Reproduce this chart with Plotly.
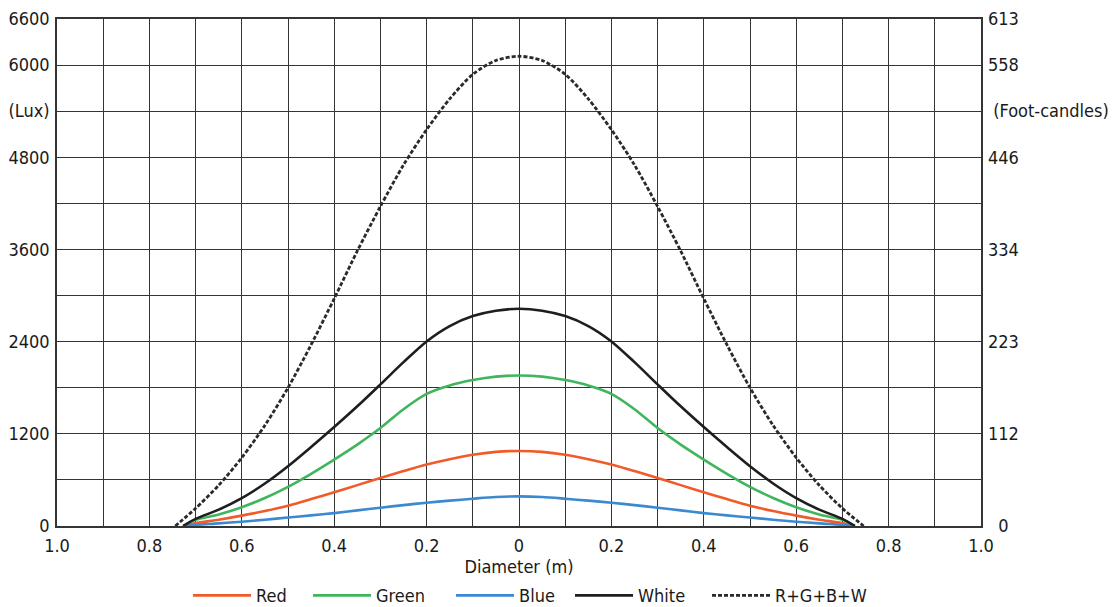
import plotly.graph_objects as go

# Diameter positions (m)
x_rgbw = [-0.727, -0.7, -0.65, -0.6, -0.55, -0.5, -0.45, -0.4, -0.35, -0.3, -0.25, -0.2, -0.15, -0.1, -0.05, 0.0,
          0.05, 0.1, 0.15, 0.2, 0.25, 0.3, 0.35, 0.4, 0.45, 0.5, 0.55, 0.6, 0.65, 0.7, 0.727]
x_total = [-0.744, -0.7, -0.65, -0.6, -0.55, -0.5, -0.45, -0.4, -0.35, -0.3, -0.25, -0.2, -0.15, -0.1, -0.05, 0.0,
           0.05, 0.1, 0.15, 0.2, 0.25, 0.3, 0.35, 0.4, 0.45, 0.5, 0.55, 0.6, 0.65, 0.7, 0.746]

# Illuminance values (Lux)
red = [0, 38, 82, 135, 195, 265, 350, 440, 532, 625, 715, 800, 870, 928, 965, 977,
       965, 928, 870, 800, 715, 625, 532, 440, 350, 265, 195, 135, 82, 38, 0]
green = [0, 80, 150, 245, 365, 510, 680, 865, 1060, 1275, 1520, 1720, 1830, 1900, 1945, 1960,
         1945, 1900, 1830, 1720, 1520, 1275, 1060, 865, 680, 510, 365, 245, 150, 80, 0]
blue = [0, 15, 34, 56, 82, 110, 138, 168, 203, 238, 272, 303, 330, 355, 377, 385,
        377, 355, 330, 303, 272, 238, 203, 168, 138, 110, 82, 56, 34, 15, 0]
white = [0, 93, 213, 363, 553, 778, 1028, 1288, 1558, 1843, 2133, 2403, 2603, 2733, 2803, 2828,
         2803, 2733, 2603, 2403, 2133, 1843, 1558, 1288, 1028, 778, 553, 363, 213, 93, 0]
total = [0, 230, 530, 890, 1310, 1800, 2360, 2960, 3580, 4160, 4700, 5160, 5560, 5880, 6060, 6115,
         6060, 5880, 5560, 5160, 4700, 4160, 3580, 2960, 2360, 1800, 1310, 890, 530, 230, 0]

names = ["Red", "Green", "Blue", "White", "R+G+B+W"]
colors = ["#f15a29", "#3fb55c", "#3a89d1", "#1e1e1e", "#2a2a2a"]

# Axis ticks
x_tickvals = [-1.0, -0.8, -0.6, -0.4, -0.2, 0.0, 0.2, 0.4, 0.6, 0.8, 1.0]
x_ticktext = ["1.0", "0.8", "0.6", "0.4", "0.2", "0", "0.2", "0.4", "0.6", "0.8", "1.0"]
y_tickvals = [0, 1200, 2400, 3600, 4800, 5400, 6000, 6600]
y_left_text = ["0", "1200", "2400", "3600", "4800", "(Lux)", "6000", "6600"]
y_right_text = ["\u00a0\u00a00", "112", "223", "334", "446", "\u00a0(Foot-candles)", "558", "613"]

FONT = "DejaVu Sans Condensed, DejaVu Sans, sans-serif"
GRID = "#353535"
legend_widths = [47, 70, 46, 64, 100]

fig = go.Figure()
series = [red, green, blue, white]
for name, col, ys, lw in zip(names[:4], colors[:4], series, legend_widths[:4]):
    fig.add_trace(go.Scatter(x=x_rgbw, y=ys, name=name, mode="lines", legendwidth=lw,
                             line=dict(color=col, width=2.6, shape="spline", smoothing=0.8)))
fig.add_trace(go.Scatter(x=x_total, y=total, name=names[4], mode="lines", legendwidth=legend_widths[4],
                         line=dict(color=colors[4], width=2.8, dash="4px,2px",
                                   shape="spline", smoothing=0.8)))
# invisible trace to activate the right axis
fig.add_trace(go.Scatter(x=[0], y=[0], yaxis="y2", mode="markers", marker=dict(opacity=0),
                         showlegend=False, hoverinfo="skip"))

fig.update_layout(
    width=1118, height=607,
    margin=dict(l=49, r=145, t=11, b=89, autoexpand=False),
    paper_bgcolor="white", plot_bgcolor="white",
    font=dict(family=FONT, size=18, color="#1a1a1a"),
    showlegend=True,
    legend=dict(orientation="h", x=0.1418, xanchor="left", y=-0.174, yanchor="bottom",
                font=dict(size=18), itemwidth=58, traceorder="normal"),
    xaxis=dict(range=[-1, 1], tickvals=x_tickvals, ticktext=x_ticktext,
               showgrid=True, gridcolor=GRID, gridwidth=1.3, automargin=False,
               ticklabeloverflow="allow", ticklabelstandoff=3,
               minor=dict(dtick=0.1, tick0=0, showgrid=True, gridcolor=GRID, gridwidth=1.3),
               showline=True, linecolor=GRID, linewidth=1.5, mirror=True,
               zeroline=False, ticks="",
               title=dict(text="Diameter (m)", standoff=3, font=dict(size=18))),
    yaxis=dict(range=[0, 6600], tickvals=y_tickvals, ticktext=y_left_text,
               showgrid=True, gridcolor=GRID, gridwidth=1.3, automargin=False,
               ticklabeloverflow="allow",
               minor=dict(dtick=600, tick0=0, showgrid=True, gridcolor=GRID, gridwidth=1.3),
               showline=True, linecolor=GRID, linewidth=1.5, mirror=True,
               zeroline=False, ticks="", ticklabelstandoff=2),
    yaxis2=dict(range=[0, 6600], tickvals=y_tickvals, ticktext=y_right_text,
                overlaying="y", side="right", showgrid=False, zeroline=False,
                ticklabeloverflow="allow",
                showline=False, ticks="", automargin=False, ticklabelstandoff=6),
)

fig.write_html("out.html")
